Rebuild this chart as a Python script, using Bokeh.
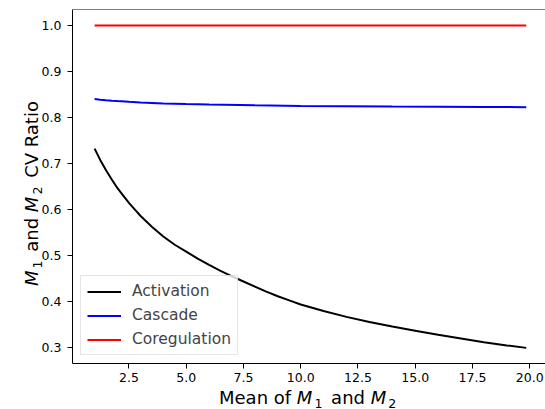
from bokeh.plotting import figure
from bokeh.models import Range1d, FixedTicker, PrintfTickFormatter, Span, Div
from bokeh.layouts import row, column
from bokeh.embed import file_html
from bokeh.resources import INLINE

# Mean expression level of M1 and M2
x_activation = [1, 1.25, 1.5, 1.75, 2, 2.25, 2.5, 2.75, 3, 3.5, 4, 4.5, 5, 5.5,
                6, 6.5, 7, 7.5, 8, 8.5, 9, 9.5, 10, 11, 12, 13, 14, 15, 16, 17,
                18, 19, 19.85]
activation = [0.732, 0.707, 0.685, 0.665, 0.646, 0.630, 0.614, 0.600, 0.586,
              0.562, 0.541, 0.523, 0.508, 0.493, 0.479, 0.466, 0.454, 0.443,
              0.432, 0.421, 0.411, 0.402, 0.393, 0.379, 0.366, 0.355, 0.345,
              0.336, 0.327, 0.319, 0.311, 0.304, 0.2986]

x_cascade = [1, 1.25, 1.5, 1.75, 2, 2.5, 3, 4, 5, 6, 8, 10, 12, 14, 16, 18,
             19.85]
cascade = [0.840, 0.8387, 0.8375, 0.8364, 0.8355, 0.8340, 0.8327, 0.8305,
           0.829, 0.828, 0.8263, 0.825, 0.8243, 0.8237, 0.8232, 0.8227, 0.8223]

x_coregulation = [1, 19.85]
coregulation = [1.0, 1.0]

x_ticks = [2.5, 5.0, 7.5, 10.0, 12.5, 15.0, 17.5, 20.0]
y_ticks = [0.3, 0.4, 0.5, 0.6, 0.7, 0.8, 0.9, 1.0]

FONT = "DejaVu Sans"
LABEL_W = 38          # width of the y-title column
PLOT_H = 389          # height of the figure (x-title strip sits below)

p = figure(width=545 - LABEL_W, height=PLOT_H, output_backend="svg",
           toolbar_location=None,
           x_range=Range1d(0.035, 20.69), y_range=Range1d(0.2646, 1.0348),
           min_border_left=70 - LABEL_W, min_border_right=0, min_border_top=9,
           min_border_bottom=26)
p.background_fill_color = "white"
p.border_fill_color = None
p.outline_line_color = None
p.grid.visible = False

p.line(x_activation, activation, line_color="black", line_width=2,
       legend_label="Activation")
p.line(x_cascade, cascade, line_color="#0000ff", line_width=2,
       legend_label="Cascade")
p.line(x_coregulation, coregulation, line_color="#ff0000", line_width=2,
       legend_label="Coregulation")

# top spine
p.add_layout(Span(location=1.0348, dimension="width", line_color="black",
                  line_width=1))

for ax, ticks in ((p.xaxis[0], x_ticks), (p.yaxis[0], y_ticks)):
    ax.ticker = FixedTicker(ticks=ticks)
    ax.formatter = PrintfTickFormatter(format="%.1f")
    ax.major_tick_out = 5
    ax.major_tick_in = 0
    ax.minor_tick_line_color = None
    ax.major_tick_line_color = "black"
    ax.axis_line_color = "black"
    ax.axis_line_width = 1
    ax.major_label_text_font = FONT
    ax.major_label_text_font_size = "12.5px"
    ax.major_label_text_color = "black"
p.xaxis.major_label_standoff = 4
p.yaxis.major_label_standoff = 6

lg = p.legend[0]
lg.location = (8, 8)
lg.padding = 6
lg.spacing = 6
lg.margin = 0
lg.glyph_width = 34
lg.glyph_height = 17
lg.label_height = 17
lg.label_standoff = 11
lg.label_text_font = FONT
lg.label_text_font_size = "15.5px"
lg.label_text_baseline = "middle"
lg.border_line_color = "#cccccc"
lg.border_line_width = 1
lg.background_fill_color = "white"
lg.background_fill_alpha = 0.8

# Axis titles with italic M and subscripts
TEXT_CSS = ("font-family:'DejaVu Sans';color:black;white-space:nowrap;"
            "font-size:18px;line-height:18px;margin:0;padding:0;")


def sub(t):
    return ('<span style="font-size:12.6px;position:relative;top:3.5px;'
            'margin-left:2px;margin-right:3px;font-style:normal;">%s</span>' % t)


m1 = "<i>M</i>" + sub("1")
m2 = "<i>M</i>" + sub("2")
x_title = "Mean of %s and %s" % (m1, m2)
y_title = "%s and %s CV Ratio" % (m1, m2)

xdiv = Div(text='<div style="%smargin-left:219px;">%s</div>' % (TEXT_CSS, x_title),
           width=545, height=409 - PLOT_H, margin=0,
           styles={"overflow": "visible"})
ydiv = Div(text=('<div style="%sposition:absolute;left:23px;top:286px;'
                 'transform-origin:0 0;transform:rotate(-90deg);">%s</div>'
                 % (TEXT_CSS, y_title)),
           width=LABEL_W, height=PLOT_H, margin=0,
           styles={"overflow": "visible"})

layout = column(row(ydiv, p, spacing=0), xdiv, spacing=0)

open("out.html", "w").write(file_html(layout, INLINE))
